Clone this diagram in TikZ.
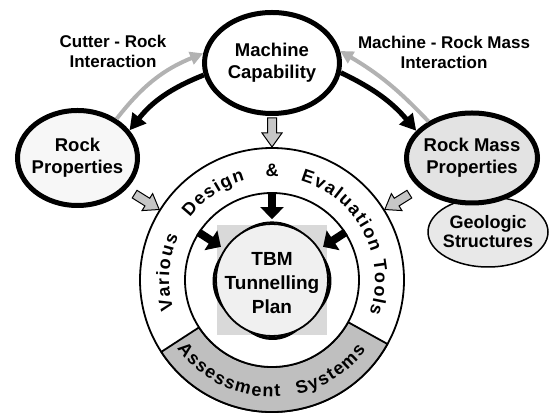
\documentclass[tikz,border=0pt]{standalone}
\usepackage{fontspec}
\setmainfont{Liberation Sans}
\usetikzlibrary{arrows.meta,shapes.geometric}

\newcommand{\ringfont}{\fontsize{18}{18}\selectfont\bfseries}
\newdimen\wordlen
\newdimen\charlen
\newcommand{\tracking}{1.5pt}
\makeatletter
\newcommand{\charwidth}[1]{%
    \pgfinterruptpicture\setbox0\hbox{\ringfont#1}\global\charlen=\wd0\endpgfinterruptpicture
    \advance\charlen by \tracking}
\newcommand{\arcword}[4]{% centre angle, radius, 1 = over the top / -1 = under the bottom, word
    \wordlen=0pt
    \@tfor\ch:=#4\do{\charwidth{\ch}\advance\wordlen by \charlen}%
    \pgfmathsetmacro{\curang}{#1+(#3)*\strip@pt\wordlen*90/(pi*#2)}%
    \@tfor\ch:=#4\do{%
        \charwidth{\ch}%
        \pgfmathsetmacro{\midang}{\curang-(#3)*\strip@pt\charlen*90/(pi*#2)}%
        \node[anchor=base, inner sep=0pt, rotate=\midang-(#3)*90, font=\ringfont] at (\midang:#2) {\ch};
        \pgfmathsetmacro{\curang}{\curang-(#3)*\strip@pt\charlen*180/(pi*#2)}%
    }}
\makeatother
\newcommand{\blockarrow}[1]{%
    \begin{scope}[shift={(outer.center)}, rotate=#1]
        \draw[block] (162,-4.5) -- (147,-4.5) -- (147,-10) -- (133,0)
            -- (147,10) -- (147,4.5) -- (162,4.5) -- cycle;
    \end{scope}}
\newcommand{\swoosh}[2]{%
    \fill ({#1-#2}:56.5) arc[start angle={#1-#2}, end angle={#1+#2}, radius=56.5]
        .. controls ({#1+#2/3}:64) and ({#1-#2/3}:64) .. cycle;}

\begin{document}
\begin{tikzpicture}
    \tikzset{x=1pt, y=1pt}
    \tikzstyle{bubble}=[ellipse, draw, line width=5pt, fill=white, align=center, inner sep=-10pt, font=\fontsize{18.5}{22}\selectfont\bfseries]
    \tikzstyle{remark}=[align=center, font=\fontsize{17}{20}\selectfont\bfseries]
    \tikzstyle{ring}=[circle, draw, line width=1.8pt, fill=white, inner sep=0pt]
    \tikzstyle{feed}=[line width=5pt, -{Triangle[length=16pt, width=17pt]}]
    \tikzstyle{backflow}=[line width=4pt, gray!60, -{Triangle[length=13pt, width=13pt]}]
    \tikzstyle{push}=[line width=8pt, shorten >=4pt, -{Triangle[length=12pt, width=23pt]}]
    \tikzstyle{block}=[draw, line width=1pt, fill=gray!45]

    \useasboundingbox (0,0) rectangle (551,414);

    \draw (488,182)     node[ellipse, draw, line width=1.5pt, fill=gray!18, minimum width=120pt, minimum height=70pt,
                             align=center, inner sep=-10pt, font=\fontsize{18}{19}\selectfont\bfseries] (geo) {Geologic\\Structures};
    \draw (272,351)     node[bubble, minimum width=135pt, minimum height=101pt]              (mach)  {Machine\\Capability};
    \draw (77.5,256)    node[bubble, fill=gray!6, minimum width=120pt, minimum height=95pt]  (rockp) {Rock\\Properties};
    \draw (472,256)     node[bubble, fill=gray!22, minimum width=131pt, minimum height=90pt] (rockm) {Rock Mass\\Properties};

    \draw (113,363)     node[remark]    (cutter)    {Cutter - Rock\\Interaction};
    \draw (444,362)     node[remark]    (massint)   {Machine - Rock Mass\\Interaction};

    \draw (272,134)     node[ring, minimum size=264pt]  (outer) {};
    \begin{scope}[shift={(outer.center)}]
        \draw[line width=1.8pt, fill=gray!50] (-147:87) arc[start angle=-147, end angle=-29, radius=87]
            -- (-29:132) arc[start angle=-29, end angle=-147, radius=132] -- cycle;
    \end{scope}
    \draw (272,134)     node[ring, minimum size=174pt]  (mid) {};
    \fill[gray!30] (217,79) rectangle (327,189);
    \draw (272,134)     node[ring, fill=gray!12, minimum size=112pt] (plan) {};
    \draw (272,131)     node[align=center, font=\fontsize{19}{24}\selectfont\bfseries] (plantext) {TBM\\Tunnelling\\Plan};

    \begin{scope}[shift={(outer.center)}]
        \arcword{176}{103}{1}{Various}
        \arcword{124}{103}{1}{Design}
        \arcword{90}{103}{1}{\&}
        \arcword{45}{103}{1}{Evaluation}
        \arcword{-4}{103}{1}{Tools}
        \arcword{-115}{117}{-1}{Assessment}
        \arcword{-57}{117}{-1}{Systems}
    \end{scope}

    \draw[push] (mid.90)  -- (plan.90);
    \draw[push] (mid.147) -- (plan.147);
    \draw[push] (mid.33)  -- (plan.33);
    \begin{scope}[shift={(plan.center)}]
        \swoosh{90}{35}
        \swoosh{183}{30}
        \swoosh{-3}{30}
        \swoosh{271}{27}
    \end{scope}

    \draw[feed]     (mach.190)  to[bend right=15]   (rockp.28);
    \draw[feed]     (mach.352)  to[bend left=12]    (rockm.154);
    \draw[backflow] (rockp.45)  to[bend left=15]    (mach.172);
    \draw[backflow] (rockm.140) to[bend right=8]    (mach.10);

    \blockarrow{90}
    \blockarrow{148}
    \blockarrow{32}
\end{tikzpicture}
\end{document}
